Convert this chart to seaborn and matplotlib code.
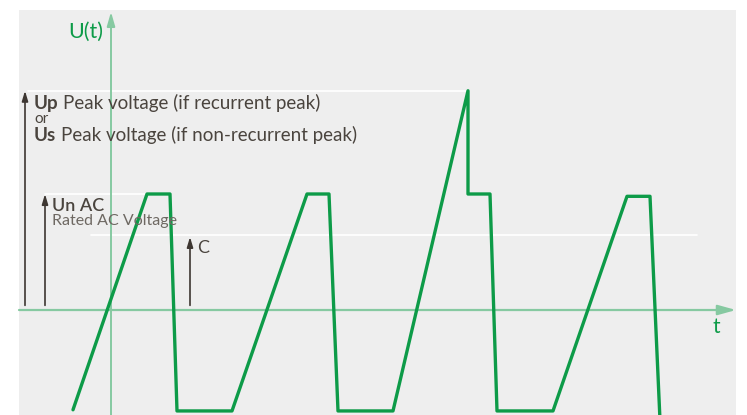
import matplotlib
import matplotlib.pyplot as plt
import pandas as pd
import seaborn as sns

matplotlib.use("Agg")

# waveform knots: time (t) and voltage (U), Un = 1.0
wave_t = [-0.76, 0.72, 1.18, 1.32, 2.42, 3.92, 4.36, 4.54, 5.64,
          7.14, 7.14, 7.58, 7.72, 8.84, 10.32, 10.78, 10.98]
wave_u = [-0.86, 1.0, 1.0, -0.87, -0.87, 1.0, 1.0, -0.87, -0.87,
          1.89, 1.0, 1.0, -0.87, -0.87, 0.98, 0.98, -0.95]

# reference levels (white guide lines): level, start t, end t
level_names = ["Up", "Un", "C"]
level_values = [1.89, 1.0, 0.65]
level_starts = [-1.66, -1.32, -0.40]
level_ends = [7.14, 0.72, 11.72]

# arrows for the level marks: t position, top value
arrow_t = [-1.72, -1.32, 1.58]
arrow_top = [1.89, 1.0, 0.63]
arrow_base = 0.04

T_MIN, T_MAX = -1.84, 12.5
U_MIN, U_MAX = -0.905, 2.586

GREEN = "#0d9b48"
AXIS_GREEN = "#86c9a1"
TEXT = "#4a443e"
TEXT_LIGHT = "#6e6862"
ARROW = "#3d3631"


def main() -> None:
    sns.set_theme(style="white", rc={"axes.facecolor": "#eeeeee"})
    plt.rcParams["font.family"] = ["Lato", "DejaVu Sans"]

    fig = plt.figure(figsize=(7.47, 4.15), dpi=100)
    ax = fig.add_axes([19 / 747, 0, 717 / 747, 405 / 415])
    ax.add_patch(plt.Rectangle((0, 0), 1, 1, transform=ax.transAxes,
                               color="#eeeeee", zorder=0))

    for value, start, end in zip(level_values, level_starts, level_ends):
        ax.plot([start, end], [value, value], color="white", lw=1.2, zorder=1)

    # coordinate axes
    ax.annotate("", xy=(T_MAX, 0), xytext=(T_MIN, 0),
                arrowprops=dict(arrowstyle="-|>,head_length=0.9,head_width=0.25",
                                color=AXIS_GREEN, lw=1.6, shrinkA=0, shrinkB=0),
                zorder=2)
    ax.annotate("", xy=(0, 2.57), xytext=(0, U_MIN),
                arrowprops=dict(arrowstyle="-|>,head_length=0.7,head_width=0.2",
                                color=AXIS_GREEN, lw=1.4, shrinkA=0, shrinkB=0),
                zorder=2)

    wave = pd.DataFrame({"t": wave_t, "U": wave_u})
    sns.lineplot(data=wave, x="t", y="U", sort=False, estimator=None,
                 color=GREEN, lw=2.4, ax=ax, zorder=3)
    ax.set_xlim(T_MIN, T_MAX)
    ax.set_ylim(U_MIN, U_MAX)
    ax.set_axis_off()

    for t, top in zip(arrow_t, arrow_top):
        ax.annotate("", xy=(t, top), xytext=(t, arrow_base),
                    arrowprops=dict(arrowstyle="-|>,head_length=0.5,head_width=0.15",
                                    color=ARROW, lw=1.2, shrinkA=0, shrinkB=0),
                    zorder=4)

    ax.text(-0.16, 2.40, "U(t)", color=GREEN, fontsize=15.5, ha="right", va="center")
    ax.text(12.1, -0.15, "t", color=GREEN, fontsize=15, ha="center", va="center")

    up = ax.text(-1.54, 1.733, "Up", color=TEXT, fontsize=13.5, fontweight="bold",
                 va="baseline")
    ax.annotate("Peak voltage (if recurrent peak)", xy=(1, 0), xycoords=up,
                xytext=(3.5, 0), textcoords="offset points",
                va="bottom", ha="left", color=TEXT, fontsize=13.5)
    ax.text(-1.54, 1.612, "or", color=TEXT, fontsize=11, va="baseline")
    us = ax.text(-1.54, 1.453, "Us", color=TEXT, fontsize=13.5, fontweight="bold",
                 va="baseline")
    ax.annotate("Peak voltage (if non-recurrent peak)", xy=(1, 0), xycoords=us,
                xytext=(3.5, 0), textcoords="offset points",
                va="bottom", ha="left", color=TEXT, fontsize=13.5)

    ax.text(-1.18, 0.853, "Un AC", color=TEXT, fontsize=13, fontweight="semibold",
            va="baseline")
    ax.text(-1.18, 0.733, "Rated AC Voltage", color=TEXT_LIGHT, fontsize=11.5,
            va="baseline")
    ax.text(1.72, 0.49, "C", color=TEXT, fontsize=13, va="baseline")

    fig.savefig("out.png", dpi=100)
    plt.close(fig)


if __name__ == "__main__":
    main()
